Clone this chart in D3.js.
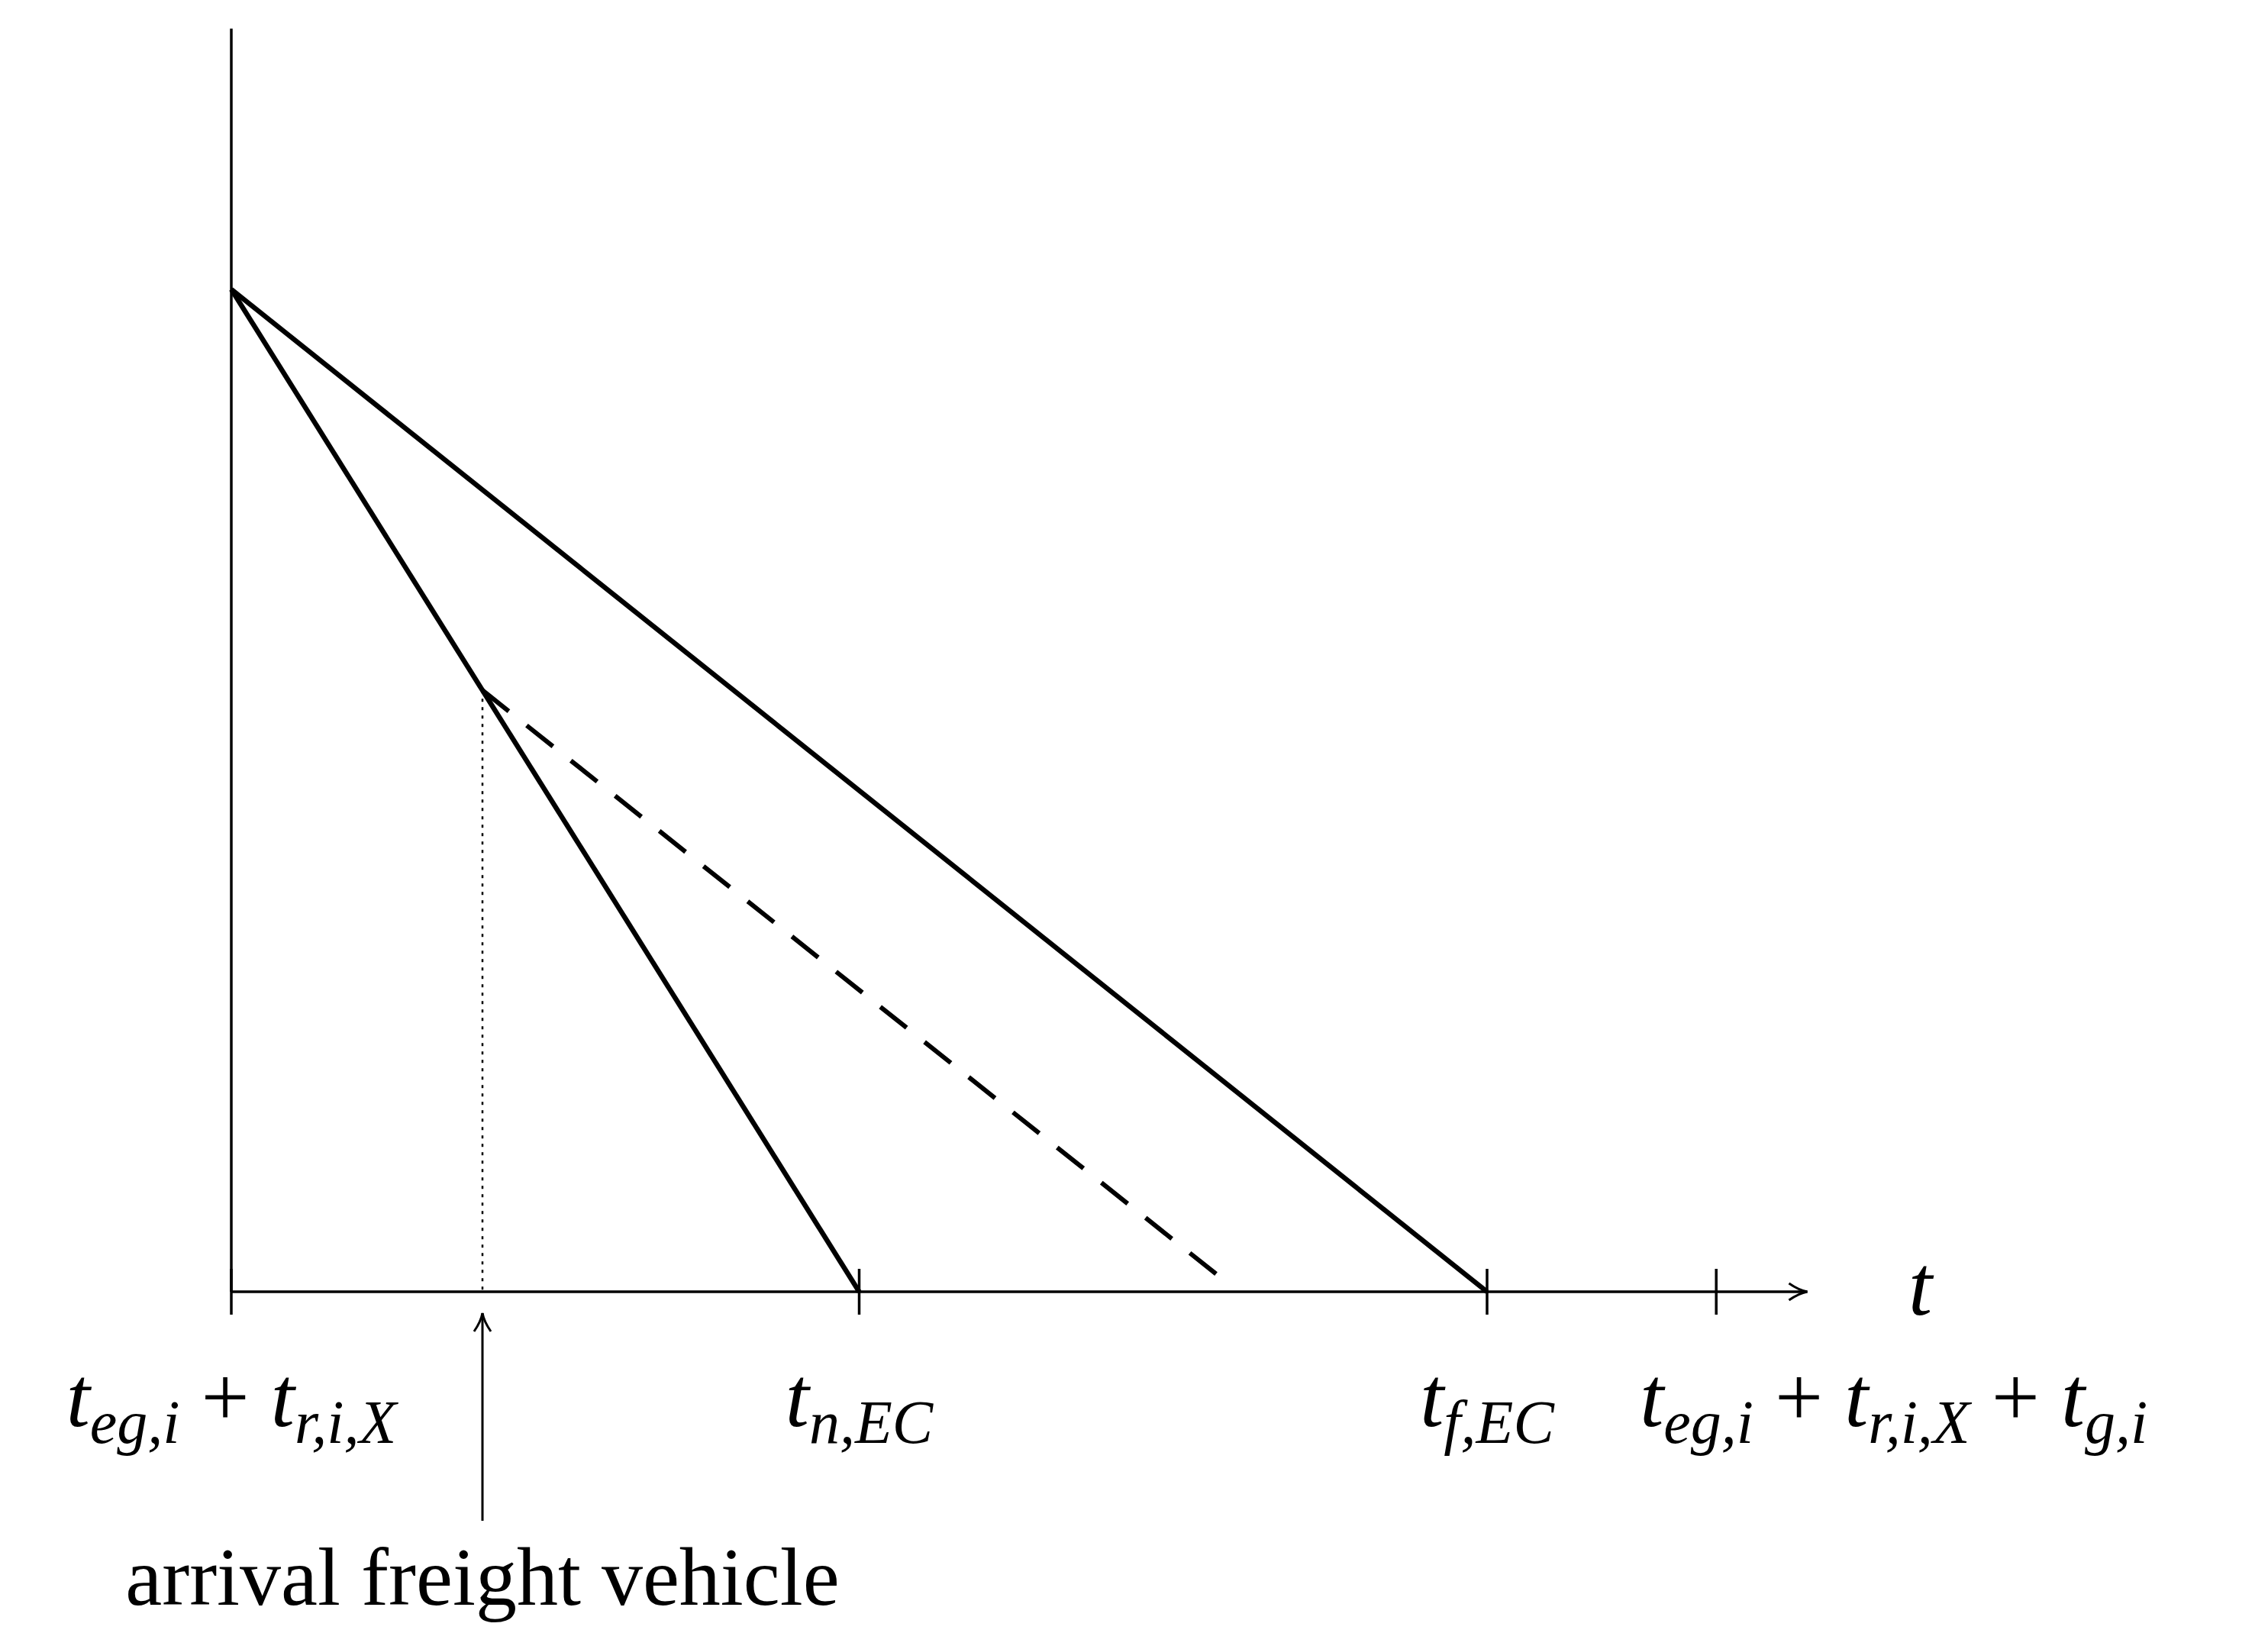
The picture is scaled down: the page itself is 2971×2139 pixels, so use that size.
<!DOCTYPE html><html><head><meta charset="utf-8">
<script src="https://cdn.jsdelivr.net/npm/d3@7"></script>
<style>body{margin:0;background:#fff}</style></head><body>
<script>
const ticks=[0,10,20,23.65];
const arrival=4;
const steepLine=[[0,1],[10,0]];
const shallowLine=[[0,1],[20,0]];
const dashedLine=[[4,0.6],[15.8,0.012]];
const tickLabels=[
 {x:0,anchor:"middle",dx:0,parts:[["t",""],["eg,i","s"],[" + ",""],["t",""],["r,i,X","s"]]},
 {x:10,anchor:"middle",dx:0,parts:[["t",""],["n,EC","s"]]},
 {x:20,anchor:"middle",dx:0,parts:[["t",""],["f,EC","s"]]},
 {x:23.65,anchor:"start",dx:-100,parts:[["t",""],["eg,i","s"],[" + ",""],["t",""],["r,i,X","s"],[" + ",""],["t",""],["g,i","s"]]}
];
const W=2971,H=2139;
const svg=d3.select("body").append("svg").attr("width",W).attr("height",H);
const x=d3.scaleLinear().domain([0,10]).range([303,1125.5]);
const y=d3.scaleLinear().domain([0,1]).range([1692,379]);
const defs=svg.append("defs");
defs.append("marker").attr("id","ah").attr("viewBox","0 0 30 30").attr("refX",27).attr("refY",15)
 .attr("markerWidth",30).attr("markerHeight",30).attr("markerUnits","userSpaceOnUse").attr("orient","auto")
 .append("path").attr("d","M3,4 Q16,13 27,15 Q16,17 3,26").attr("fill","none").attr("stroke","#000").attr("stroke-width",3);
const ln=d3.line().x(d=>x(d[0])).y(d=>y(d[1]));
svg.append("line").attr("x1",x(0)).attr("x2",x(0)).attr("y1",y(0)).attr("y2",y(1.26)).attr("stroke","#000").attr("stroke-width",3.5);
svg.append("line").attr("x1",x(0)).attr("x2",x(25.1)).attr("y1",y(0)).attr("y2",y(0)).attr("stroke","#000").attr("stroke-width",3.5).attr("marker-end","url(#ah)");
svg.selectAll(".tk").data(ticks).join("line").attr("x1",d=>x(d)).attr("x2",d=>x(d)).attr("y1",y(0)-30).attr("y2",y(0)+30).attr("stroke","#000").attr("stroke-width",3.5);
[steepLine,shallowLine].forEach(l=>svg.append("path").attr("d",ln(l)).attr("fill","none").attr("stroke","#000").attr("stroke-width",6.5));
svg.append("path").attr("d",ln(dashedLine)).attr("fill","none").attr("stroke","#000").attr("stroke-width",6).attr("stroke-dasharray","44,30");
svg.append("line").attr("x1",x(arrival)).attr("x2",x(arrival)).attr("y1",y(0.6)).attr("y2",y(0)).attr("stroke","#000").attr("stroke-width",2.5).attr("stroke-dasharray","4,7");
svg.append("line").attr("x1",x(arrival)).attr("x2",x(arrival)).attr("y1",1992).attr("y2",1720).attr("stroke","#000").attr("stroke-width",3).attr("marker-end","url(#ah)");
const font="'Liberation Serif','DejaVu Serif',serif";
tickLabels.forEach(L=>{
 const t=svg.append("text").attr("x",x(L.x)+L.dx).attr("y",1868).attr("text-anchor",L.anchor).attr("font-family",font).attr("font-size",112);
 let low=false;
 L.parts.forEach(([s,k])=>{
  const sp=t.append("tspan").text(s);
  const sub=k==="s";
  const dy=sub&&!low?22:(!sub&&low?-22:0);
  low=sub;
  sp.attr("dy",dy);
  if(sub)sp.attr("font-size",80).attr("font-style","italic");
  else if(s.trim()==="t")sp.attr("font-style","italic");
 });
});
svg.append("text").attr("x",2500).attr("y",1722).attr("font-family",font).attr("font-size",112).attr("font-style","italic").text("t");
svg.append("text").attr("x",x(arrival)).attr("y",2102).attr("text-anchor","middle").attr("font-family",font).attr("font-size",108).text("arrival freight vehicle");
</script></body></html>
